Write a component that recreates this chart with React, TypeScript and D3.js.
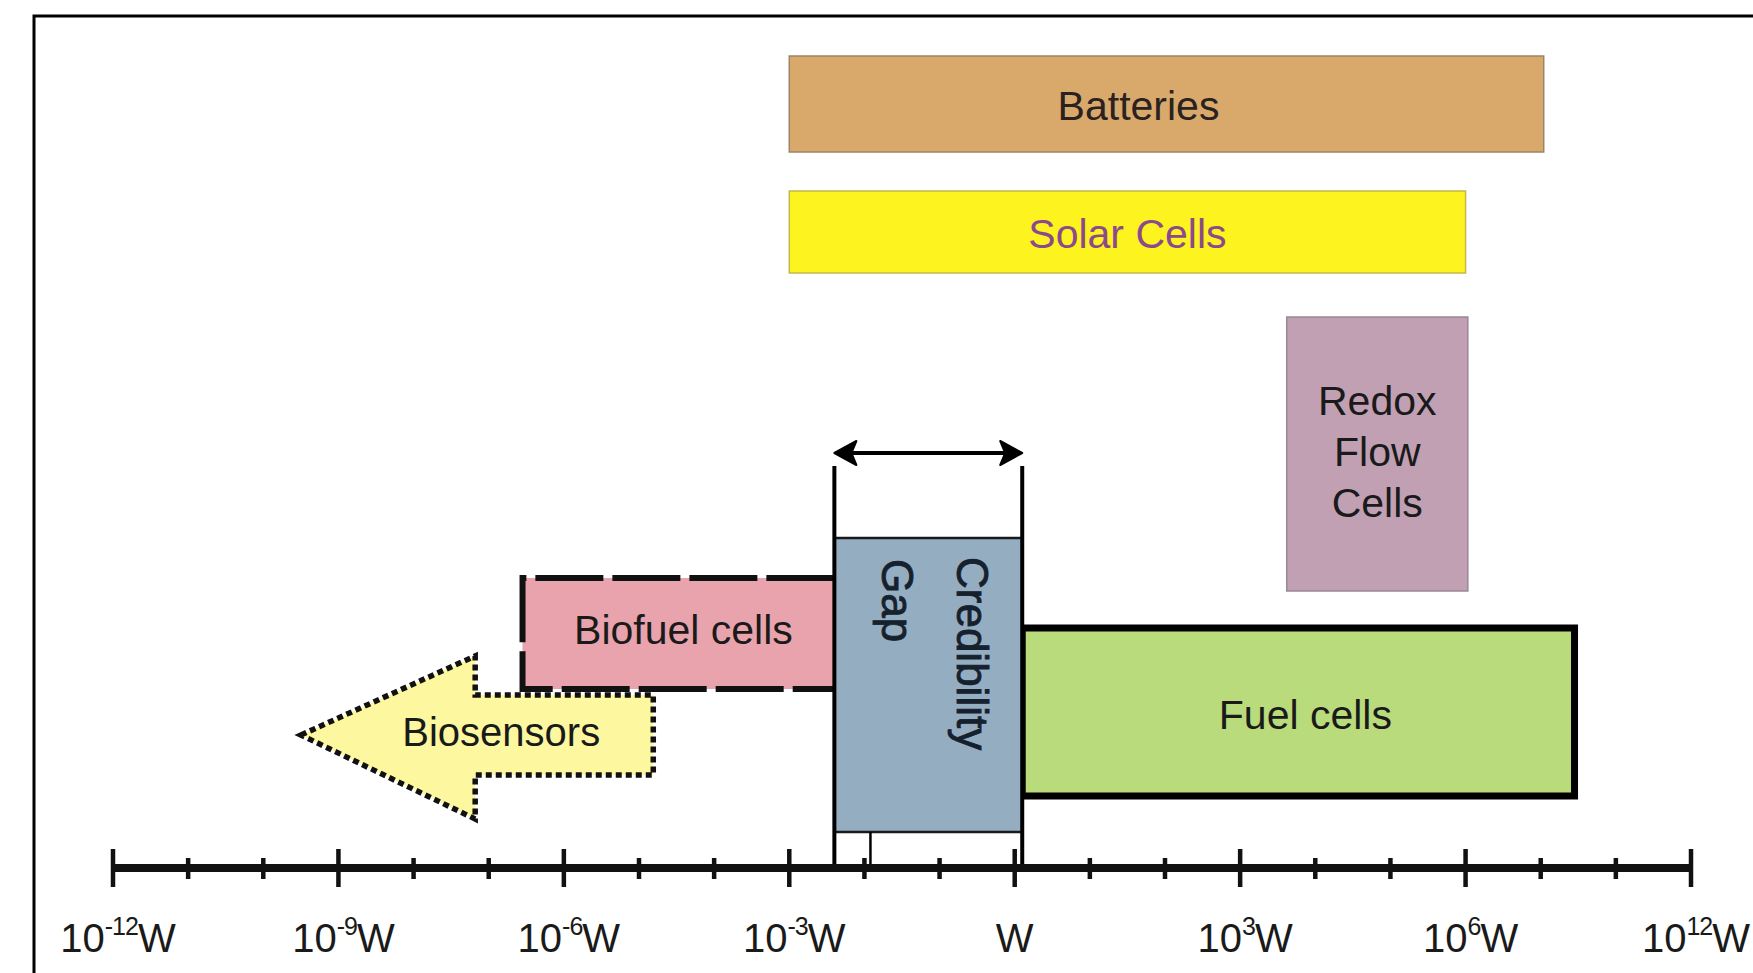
import React from "react";
import * as d3 from "d3";

// ---- data (x values are log10 of power in W) ----
const majorTicks = [-12, -9, -6, -3, 0, 3, 6, 9];
const majorTickExponents = ["-12", "-9", "-6", "-3", "", "3", "6", "12"];
const minorTicks = d3.range(-12, 9).filter((v) => v % 3 !== 0);

const batteriesRange = [-3.0, 7.04];
const solarRange = [-3.0, 6.0];
const redoxRange = [3.62, 6.03];
const gapRange = [-2.4, 0.1];
const biofuelRange = [-6.55, -2.4];
const fuelRange = [0.1, 7.45];
const biosensorTip = -9.5;
const biosensorHeadBack = -7.18;
const biosensorEnd = -4.81;
const gapInnerLine = -1.92;

const W = 1753;
const H = 973;
const FONT = "'Liberation Sans', Arial, Helvetica, sans-serif";

export default function App() {
  const x = d3.scaleLinear().domain([-12, 9]).range([113, 1691]);
  const axisY = 868;

  const bio = {
    tip: x(biosensorTip),
    back: x(biosensorHeadBack),
    end: x(biosensorEnd),
  };
  const arrowPath = d3.path();
  arrowPath.moveTo(bio.tip, 735);
  arrowPath.lineTo(bio.back, 656);
  arrowPath.lineTo(bio.back, 695);
  arrowPath.lineTo(bio.end, 695);
  arrowPath.lineTo(bio.end, 775);
  arrowPath.lineTo(bio.back, 775);
  arrowPath.lineTo(bio.back, 819);
  arrowPath.closePath();

  const bfL = x(biofuelRange[0]);
  const bfR = x(biofuelRange[1]);
  const bfT = 578;
  const bfB = 689;
  const bfBorder = d3.path();
  bfBorder.moveTo(bfR, bfT);
  bfBorder.lineTo(bfL, bfT);
  bfBorder.lineTo(bfL, bfB);
  bfBorder.lineTo(bfR, bfB);

  const gL = x(gapRange[0]);
  const gR = x(gapRange[1]);
  const arrowY = 453;

  return (
    <div style={{ position: "absolute", left: 0, top: 0, width: W, height: H, background: "#fff" }}>
      <svg width={W} height={H} style={{ display: "block" }} fontFamily={FONT}>
        <rect x={0} y={0} width={W} height={H} fill="#ffffff" />
        {/* frame */}
        <rect x={34} y={16} width={W + 50} height={H + 50} fill="none" stroke="#000" strokeWidth={3} />

        {/* Batteries */}
        <rect x={x(batteriesRange[0])} y={56} width={x(batteriesRange[1]) - x(batteriesRange[0])} height={96}
          fill="#d9a96b" stroke="#9c8466" strokeWidth={1.5} />
        <text x={(x(batteriesRange[0]) + x(batteriesRange[1])) / 2 - 28} y={120} textAnchor="middle" fontSize={41} fill="#2a2220">Batteries</text>

        {/* Solar Cells */}
        <rect x={x(solarRange[0])} y={191} width={x(solarRange[1]) - x(solarRange[0])} height={82}
          fill="#fdf31e" stroke="#c4b84a" strokeWidth={1.5} />
        <text x={(x(solarRange[0]) + x(solarRange[1])) / 2} y={248} textAnchor="middle" fontSize={41} fill="#8a4a8c">Solar Cells</text>

        {/* Redox Flow Cells */}
        <rect x={x(redoxRange[0])} y={317} width={x(redoxRange[1]) - x(redoxRange[0])} height={274}
          fill="#c1a0b3" stroke="#9a8894" strokeWidth={1.5} />
        {["Redox", "Flow", "Cells"].map((t, i) => (
          <text key={t} x={(x(redoxRange[0]) + x(redoxRange[1])) / 2} y={415 + i * 51} textAnchor="middle" fontSize={41} fill="#1a1a1a">{t}</text>
        ))}

        {/* Biofuel cells */}
        <rect x={bfL} y={bfT} width={bfR - bfL} height={bfB - bfT} fill="#e9a3ad" />
        <path d={bfBorder.toString()} fill="none" stroke="#111" strokeWidth={6} strokeDasharray="68 9" />
        <text x={(bfL + bfR) / 2 + 5} y={644} textAnchor="middle" fontSize={41} fill="#1a1a1a">Biofuel cells</text>

        {/* Biosensors arrow */}
        <path d={arrowPath.toString()} fill="#fdf89f" stroke="#111" strokeWidth={5.5} strokeDasharray="6 4" strokeLinejoin="miter" />
        <text x={(bio.back + bio.end) / 2 - 63} y={746} textAnchor="middle" fontSize={40} fill="#1a1a1a">Biosensors</text>

        {/* Fuel cells */}
        <rect x={x(fuelRange[0])} y={628} width={x(fuelRange[1]) - x(fuelRange[0])} height={168}
          fill="#b9db7b" stroke="#000" strokeWidth={7} />
        <text x={(x(fuelRange[0]) + x(fuelRange[1])) / 2 + 7} y={729} textAnchor="middle" fontSize={41} fill="#1a1a1a">Fuel cells</text>

        {/* Credibility gap */}
        <rect x={gL} y={538} width={gR - gL} height={294} fill="#95adc1" stroke="#1a1a1a" strokeWidth={2.5} />
        <line x1={gL} x2={gL} y1={466} y2={axisY} stroke="#000" strokeWidth={4} />
        <line x1={gR} x2={gR} y1={466} y2={axisY} stroke="#000" strokeWidth={4} />
        <line x1={x(gapInnerLine)} x2={x(gapInnerLine)} y1={832} y2={axisY} stroke="#000" strokeWidth={2.5} />
        <line x1={gL + 10} x2={gR - 10} y1={arrowY} y2={arrowY} stroke="#000" strokeWidth={4} />
        <path d={`M${gL},${arrowY} L${gL + 22},${arrowY - 12} L${gL + 17},${arrowY} L${gL + 22},${arrowY + 12} Z`} fill="#000" stroke="#000" strokeWidth={2} strokeLinejoin="round" />
        <path d={`M${gR},${arrowY} L${gR - 22},${arrowY - 12} L${gR - 17},${arrowY} L${gR - 22},${arrowY + 12} Z`} fill="#000" stroke="#000" strokeWidth={2} strokeLinejoin="round" />
        <text transform={`translate(957,557) rotate(90)`} fontSize={44} fill="#16212e" stroke="#16212e" strokeWidth={0.9}>Credibility</text>
        <text transform={`translate(882,559) rotate(90)`} fontSize={44} fill="#16212e" stroke="#16212e" strokeWidth={0.9}>Gap</text>

        {/* axis */}
        <line x1={x(-12)} x2={x(9)} y1={axisY} y2={axisY} stroke="#111" strokeWidth={8} />
        {majorTicks.map((t) => (
          <line key={"M" + t} x1={x(t)} x2={x(t)} y1={849} y2={887} stroke="#111" strokeWidth={4.5} />
        ))}
        {minorTicks.map((t) => (
          <line key={"m" + t} x1={x(t)} x2={x(t)} y1={858} y2={879} stroke="#111" strokeWidth={4.5} />
        ))}
        {majorTicks.map((t, i) => {
          const e = majorTickExponents[i];
          return (
            <text key={"L" + t} x={x(t) + (e ? 5 : 0)} y={952} textAnchor="middle" fontSize={40} fill="#1a1a1a">
              {e ? (
                <>
                  <tspan>10</tspan>
                  <tspan dy={-17} fontSize={25} letterSpacing={-1}>{e}</tspan>
                  <tspan dy={17}>W</tspan>
                </>
              ) : (
                <tspan>W</tspan>
              )}
            </text>
          );
        })}
      </svg>
    </div>
  );
}
